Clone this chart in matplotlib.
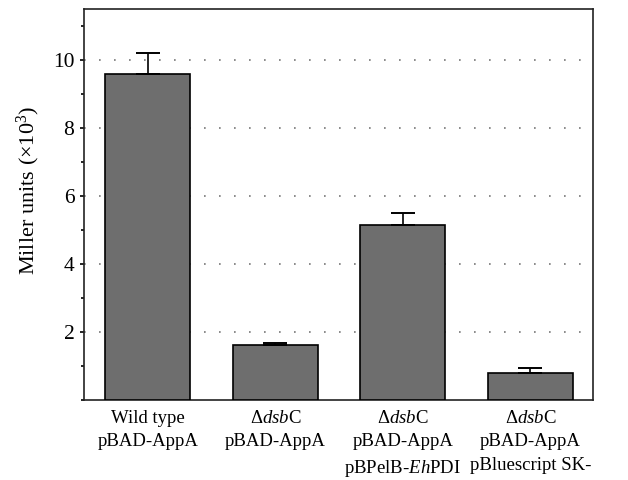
#!/usr/bin/env python3

import numpy as np
import matplotlib.pyplot as plt
from matplotlib.ticker import MultipleLocator

plt.rcParams['font.family'] = ['Liberation Serif', 'DejaVu Serif']
plt.rcParams['mathtext.fontset'] = 'custom'
plt.rcParams['mathtext.rm'] = 'Liberation Serif'
plt.rcParams['mathtext.it'] = 'Liberation Serif:italic'

labels = [
    'Wild type\npBAD-AppA',
    '$\\Delta\\mathit{dsb}$C\npBAD-AppA',
    '$\\Delta\\mathit{dsb}$C\npBAD-AppA\npBPelB-$\\mathit{Eh}$PDI',
    '$\\Delta\\mathit{dsb}$C\npBAD-AppA\npBluescript SK-',
]
values = [9.6, 1.6, 5.16, 0.79]
errors = [0.6, 0.07, 0.35, 0.14]

fig = plt.figure(figsize=(6.28, 4.8), dpi=100)
ax = fig.add_axes([0.134, 0.167, 0.81, 0.814])

x = np.arange(len(values))
ax.bar(x, values, width=0.667, color='#6e6e6e', edgecolor='black',
       linewidth=1.2, zorder=3)
ax.errorbar(x, values, yerr=[np.zeros(len(errors)), errors], fmt='none',
            ecolor='black', elinewidth=1.2, capsize=8.5, capthick=1.4, zorder=4)

ax.set_xlim(-0.5, 3.49)
ax.set_ylim(0, 11.5)
ax.yaxis.set_minor_locator(MultipleLocator(1))
ax.set_yticks([2, 4, 6, 8, 10])
ax.yaxis.grid(True, linestyle=(0, (1, 8)), color='#777777', linewidth=1.2,
              zorder=0)
ax.set_axisbelow(True)

ax.set_xticks(x)
ax.set_xticklabels(labels, fontsize=13.5, va='top', linespacing=1.5)
ax.tick_params(axis='x', length=0, pad=7)
ax.tick_params(axis='y', which='major', length=3, width=1.2, labelsize=15.5, pad=4)
ax.tick_params(axis='y', which='minor', length=2, width=1.2)

ax.set_ylabel('Miller units ($\\times10^3$)', fontsize=16)
ax.yaxis.set_label_coords(-0.082, 0.535)

for s in ax.spines.values():
    s.set_linewidth(1.2)
    s.set_color('#222222')

fig.savefig('out.png', dpi=100)
